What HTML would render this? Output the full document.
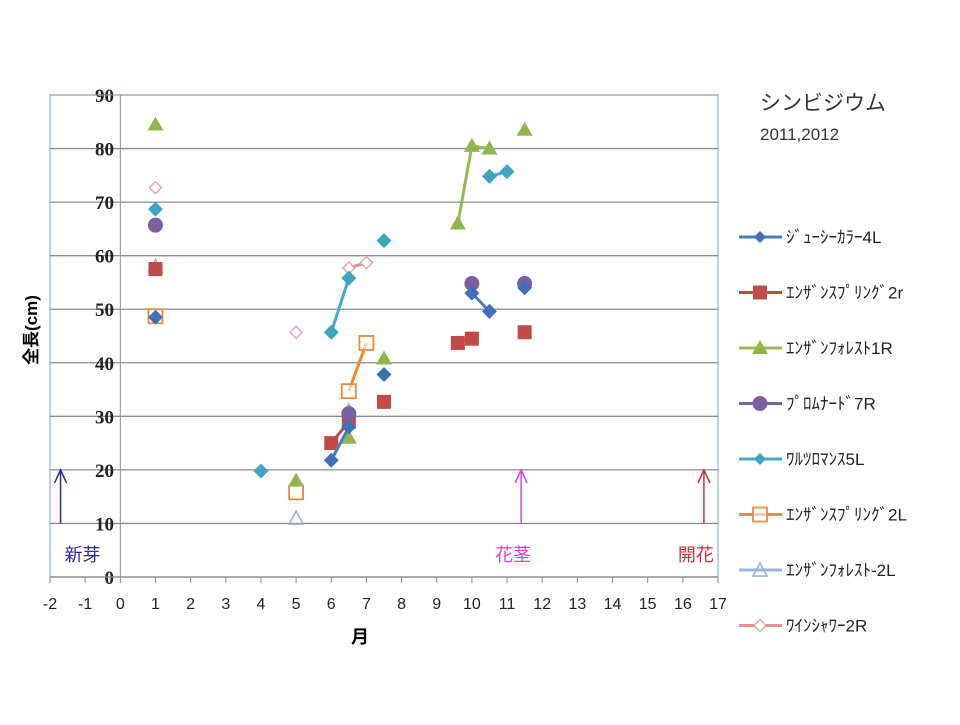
<!DOCTYPE html>
<html><head><meta charset="utf-8"><style>
body{margin:0;background:#fff;}
svg text{font-family:"Liberation Sans","Noto Sans CJK JP",sans-serif;}
svg text.serif{font-family:"Liberation Serif",serif;}
</style></head><body>
<svg id="chart" width="960" height="720" xmlns="http://www.w3.org/2000/svg">
<g id="grid"></g><g id="series"></g><g id="legend"></g>
<text x="760" y="110" font-size="21" fill="#333">シンビジウム</text>
<text x="760" y="140" font-size="17" fill="#333">2011,2012</text>
<text transform="translate(37,330) rotate(-90)" font-size="17" font-weight="bold" text-anchor="middle">全長(cm)</text>
<text x="360" y="643" font-size="18" font-weight="bold" text-anchor="middle">月</text>
</svg>
<script>
const xTicks=[-2,-1,0,1,2,3,4,5,6,7,8,9,10,11,12,13,14,15,16,17];
const yTicks=[0,10,20,30,40,50,60,70,80,90];
const seriesNames=["ｼﾞｭｰｼｰｶﾗｰ4L","ｴﾝｻﾞﾝｽﾌﾟﾘﾝｸﾞ2r","ｴﾝｻﾞﾝﾌｫﾚｽﾄ1R","ﾌﾟﾛﾑﾅｰﾄﾞ7R","ﾜﾙﾂﾛﾏﾝｽ5L","ｴﾝｻﾞﾝｽﾌﾟﾘﾝｸﾞ2L","ｴﾝｻﾞﾝﾌｫﾚｽﾄ-2L","ﾜｲﾝｼｬﾜｰ2R"];
// segments of [month, length]; separate segments are not connected
const s0=[[[1,48.5]],[[6,21.8],[6.5,28]],[[7.5,37.8]],[[10,53],[10.5,49.6]],[[11.5,54]]];
const s1=[[[1,57.5]],[[6,25],[6.5,29]],[[7.5,32.7]],[[9.6,43.7],[10,44.5]],[[11.5,45.7]]];
const s2=[[[1,84.5]],[[5,18]],[[6.5,26]],[[7.5,40.8]],[[9.6,66],[10,80.5],[10.5,80]],[[11.5,83.5]]];
const s3=[[[1,65.7]],[[6.5,30.5]],[[10,54.8]],[[11.5,54.8]]];
const s4=[[[1,68.7]],[[4,19.8]],[[6,45.7],[6.5,55.8]],[[7.5,62.8]],[[10.5,74.8],[11,75.7]]];
const s5=[[[1,48.7]],[[5,15.8]],[[6.5,34.7],[7,43.7]]];
const s6=[[[1,58]],[[5,11]],[[6.5,31]]];
const s7=[[[1,72.7]],[[5,45.7]],[[6.5,57.7],[7,58.7]]];
const allSeries=[s0,s1,s2,s3,s4,s5,s6,s7];
const arrowsX=[-1.7,11.4,16.6];
const arrowLabels=["新芽","花茎","開花"];

const NS="http://www.w3.org/2000/svg";
const X0=50,X1=718,Y0=577,Y1=95,xmin=-2,xmax=17,ymax=90;
const sx=v=>X0+(v-xmin)/(xmax-xmin)*(X1-X0);
const sy=v=>Y0-v/ymax*(Y0-Y1);
function mk(tag,at,parent){const e=document.createElementNS(NS,tag);for(const k in at)e.setAttribute(k,at[k]);parent.appendChild(e);return e;}
const grid=document.getElementById('grid'),ser=document.getElementById('series'),leg=document.getElementById('legend');
yTicks.forEach(t=>{
 const l=mk('line',{x1:X0,x2:X1,y1:sy(t),y2:sy(t),stroke:'#8c8c8c','stroke-width':1.3},grid);
 
 
 const tx=mk('text',{x:114,y:sy(t)+7,'font-size':19,'font-weight':'bold','text-anchor':'end',fill:'#222','class':'serif'},grid);
 tx.textContent=t;
 
 
});
const fr=mk('rect',{x:X0,y:Y1,width:X1-X0,height:Y0-Y1,fill:'none',stroke:'#7fa3c4','stroke-width':1},grid);


const va=mk('line',{x1:sx(0),x2:sx(0),y1:Y1,y2:Y0,stroke:'#8c8c8c','stroke-width':1},grid);


const xa=mk('line',{x1:X0,x2:X1,y1:Y0,y2:Y0,stroke:'#8c8c8c','stroke-width':1.3},grid);


xTicks.forEach(t=>{
 const l=mk('line',{x1:sx(t),x2:sx(t),y1:Y0,y2:Y0+6,stroke:'#8c8c8c'},grid);
 
 
 const tx=mk('text',{x:sx(t),y:Y0+32,'font-size':16,'text-anchor':'middle',fill:'#222'},grid);
 tx.textContent=t;
 
 
});
const colors=['#4170b8','#be4b48','#8fb54e','#7d5fa0','#3fa5bf','#e98a3e','#95b3d7','#e3a9a7'];
const lineCol=['#4a7ebb','#be4b48','#98b954','#7d60a0','#46aac5','#f38a33','#9ab4d8','#d99694'];
const shapes=['diamond','square','triangle','circle','diamond','osquare','otriangle','odiamond'];
function marker(shape,x,y,c,p,sz){
 let e;
 if(shape==='diamond'){const r=sz||7.5;e=mk('polygon',{points:`${x},${y-r} ${x+r},${y} ${x},${y+r} ${x-r},${y}`,fill:c},p);}
 else if(shape==='odiamond'){const r=6;e=mk('polygon',{points:`${x},${y-r} ${x+r},${y} ${x},${y+r} ${x-r},${y}`,fill:'#fff',stroke:c,'stroke-width':1.5},p);}
 else if(shape==='square'){e=mk('rect',{x:x-7,y:y-7,width:14,height:14,fill:c},p);}
 else if(shape==='osquare'){e=mk('rect',{x:x-7,y:y-7,width:14,height:14,fill:'#fff','fill-opacity':0.6,stroke:c,'stroke-width':1.8},p);}
 else if(shape==='triangle'){e=mk('polygon',{points:`${x},${y-8} ${x+8},${y+6} ${x-8},${y+6}`,fill:c},p);}
 else if(shape==='otriangle'){e=mk('polygon',{points:`${x},${y-7} ${x+7},${y+6} ${x-7},${y+6}`,fill:'none',stroke:c,'stroke-width':1.5},p);}
 else {e=mk('circle',{cx:x,cy:y,r:7.5,fill:c},p);}
 return e;
}
const groups=[];
allSeries.forEach((segs,i)=>{
 const g=document.createElementNS(NS,'g');
 
 
 groups.push(g);
 segs.forEach(seg=>{
  if(seg.length>1){
   const pl=mk('polyline',{points:seg.map(p=>sx(p[0])+','+sy(p[1])).join(' '),fill:'none',stroke:lineCol[i],'stroke-width':3},g);
   
   
  }
 });
 segs.forEach(seg=>seg.forEach(p=>{
  const m=marker(shapes[i],sx(p[0]),sy(p[1]),colors[i],g);
  
  
 }));
 const ly=237+i*55.5;
 const le=mk('g',{},leg);
 
 
 mk('line',{x1:739,x2:782,y1:ly,y2:ly,stroke:lineCol[i],'stroke-width':3},le);
 marker(shapes[i],760,ly,colors[i],le,6);
 const t=mk('text',{x:786,y:ly+6,'font-size':17,fill:'#222'},le);
 t.textContent=seriesNames[i];
});
// draw later series underneath earlier ones (matches reference overlap)
[5,7,6,1,2,3,4,0].forEach(i=>ser.appendChild(groups[i]));
const acol=['#2b2b9a','#e040d0','#c83040'];
arrowsX.forEach((a,i)=>{
 const x=sx(a),yt=sy(20),yb=sy(10);
 const g=mk('g',{stroke:acol[i],'stroke-width':1.5,fill:'none'},ser);
 
 
 mk('line',{x1:x,x2:x,y1:yb,y2:yt},g);
 mk('polyline',{points:`${x-6},${yt+13} ${x},${yt} ${x+6},${yt+13}`},g);
 const t=mk('text',{x:x+(i===0?22:-8),y:561,'font-size':18,fill:acol[i],'text-anchor':'middle'},ser);
 t.textContent=arrowLabels[i];
 
 
});
</script>
</body></html>
